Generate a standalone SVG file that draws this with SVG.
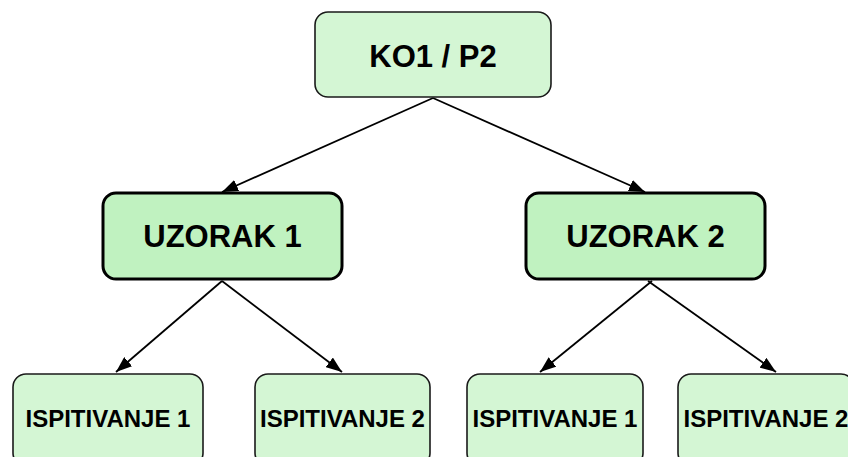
<svg xmlns="http://www.w3.org/2000/svg" width="848" height="457" viewBox="0 0 848 457">
  <defs>
    <marker id="arrow" viewBox="0 0 16 12" refX="16" refY="6" markerWidth="16" markerHeight="12" markerUnits="userSpaceOnUse" orient="auto">
      <path d="M0,0 L16,6 L0,12 Z" fill="#000"/>
    </marker>
  </defs>
  <style>
    .box { fill: #d4f6d4; stroke: #1a1a1a; stroke-width: 1.6; }
    .mid { fill: #c0f2c0; stroke: #000; stroke-width: 3; }
    .lbl { font-family: "Liberation Sans", Arial, sans-serif; font-weight: bold; fill: #000; text-anchor: middle; }
    .big { font-size: 31px; }
    .small { font-size: 24px; }
    .edge { stroke: #000; stroke-width: 1.8; fill: none; marker-end: url(#arrow); }
  </style>

  <!-- connectors -->
  <g id="connectors">
    <line class="edge" x1="433" y1="98" x2="222" y2="192"/>
    <line class="edge" x1="433" y1="98" x2="645" y2="192"/>
    <line class="edge" x1="222" y1="281" x2="116" y2="372"/>
    <line class="edge" x1="222" y1="281" x2="342" y2="372"/>
    <line class="edge" x1="652" y1="281" x2="540" y2="372"/>
    <line class="edge" x1="648" y1="281" x2="776" y2="372"/>
  </g>

  <!-- root -->
  <g id="root">
    <rect class="box" x="315" y="12" width="236" height="85" rx="13"/>
    <text class="lbl big" x="433" y="67">KO1 / P2</text>
  </g>

  <!-- samples -->
  <g id="sample1">
    <rect class="mid" x="103" y="193" width="239" height="86" rx="13"/>
    <text class="lbl big" x="222.5" y="247">UZORAK 1</text>
  </g>
  <g id="sample2">
    <rect class="mid" x="526" y="193" width="239" height="86" rx="13"/>
    <text class="lbl big" x="645.5" y="247">UZORAK 2</text>
  </g>

  <!-- tests -->
  <g id="test1a">
    <rect class="box" x="13" y="374" width="190" height="92" rx="13"/>
    <text class="lbl small" x="108" y="427">ISPITIVANJE 1</text>
  </g>
  <g id="test1b">
    <rect class="box" x="255" y="374" width="175" height="92" rx="13"/>
    <text class="lbl small" x="342.5" y="427">ISPITIVANJE 2</text>
  </g>
  <g id="test2a">
    <rect class="box" x="467" y="374" width="176" height="92" rx="13"/>
    <text class="lbl small" x="555" y="427">ISPITIVANJE 1</text>
  </g>
  <g id="test2b">
    <rect class="box" x="678" y="374" width="176" height="92" rx="13"/>
    <text class="lbl small" x="766" y="427">ISPITIVANJE 2</text>
  </g>
</svg>
